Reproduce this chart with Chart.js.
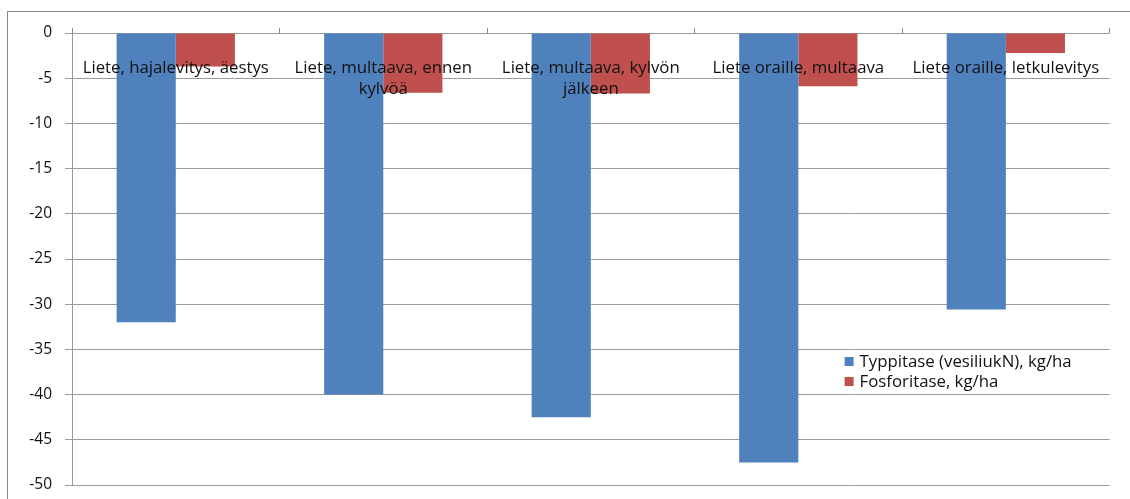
<!DOCTYPE html>
<html>
<head>
<meta charset="utf-8">
<script src="https://cdn.jsdelivr.net/npm/chart.js@4/dist/chart.umd.min.js"></script>
<style>
  html, body { margin: 0; padding: 0; background: #fff; overflow: hidden; }
  #wrap { position: relative; width: 1130px; height: 499px; }
  #frame { position: absolute; left: 7px; top: 11px; width: 1140px; height: 520px;
           border: 1px solid #8a8a8a; box-sizing: border-box; pointer-events: none; }
  canvas { position: absolute; left: 0; top: 0; }
</style>
</head>
<body>
<div id="wrap">
  <div id="frame"></div>
  <canvas id="c" width="1130" height="499"></canvas>
</div>
<script>
// Menetelmät (luokka-akselin tekstit, kaksi riviä tarvittaessa)
const categories = [
  'Liete, hajalevitys, äestys',
  ['Liete, multaava, ennen', 'kylvöä'],
  ['Liete, multaava, kylvön', 'jälkeen'],
  'Liete oraille, multaava',
  'Liete oraille, letkulevitys'
];
const seriesNames = ['Typpitase (vesiliukN), kg/ha', 'Fosforitase, kg/ha'];
const nitrogen = [-32, -40, -42.5, -47.5, -30.6];
const phosphorus = [-3.7, -6.6, -6.7, -5.9, -2.2];
const yTicks = [0, -5, -10, -15, -20, -25, -30, -35, -40, -45, -50];

const BLUE = '#4f81bd';
const RED = '#c0504d';
const FONT = '"Open Sans", Lato, sans-serif';

// Selite piirretään kuvaajan alueen sisään oikeaan alakulmaan
const insideLegend = {
  id: 'insideLegend',
  afterDraw(chart) {
    const { ctx, chartArea } = chart;
    const x0 = chartArea.right - 265;
    const y0 = chartArea.top + 329;
    ctx.save();
    ctx.font = '16.8px ' + FONT;
    ctx.textBaseline = 'middle';
    ctx.textAlign = 'left';
    chart.data.datasets.forEach((ds, i) => {
      const y = y0 + i * 20;
      ctx.fillStyle = ds.backgroundColor;
      ctx.fillRect(x0, y - 5, 9, 9);
      ctx.fillStyle = '#111';
      ctx.fillText(ds.label, x0 + 15, y);
    });
    ctx.restore();
  }
};

new Chart(document.getElementById('c'), {
  type: 'bar',
  data: {
    labels: categories,
    datasets: [
      { label: seriesNames[0], data: nitrogen, backgroundColor: BLUE },
      { label: seriesNames[1], data: phosphorus, backgroundColor: RED }
    ]
  },
  options: {
    responsive: false,
    animation: false,
    devicePixelRatio: 1,
    layout: { padding: { left: 0, top: 33, right: 18, bottom: 14 } },
    datasets: { bar: { categoryPercentage: 0.57, barPercentage: 1.0 } },
    plugins: {
      legend: { display: false },
      tooltip: { enabled: false }
    },
    scales: {
      x: {
        position: { y: 0 },
        offset: true,
        grid: {
          display: true,
          offset: true,
          drawOnChartArea: false,
          drawTicks: true,
          tickLength: -5,
          color: '#8a8a8a'
        },
        border: { display: false },
        ticks: {
          z: 1,
          color: '#111',
          padding: 29,
          maxRotation: 0,
          autoSkip: false,
          font: { family: FONT, size: 16.8, lineHeight: 1.29 }
        }
      },
      y: {
        min: -50,
        max: 0,
        afterFit(s) {
          s.width = 72;
          s.paddingTop = 0;
          s.paddingBottom = 0;
        },
        afterBuildTicks(s) { s.ticks = yTicks.map(v => ({ value: v })); },
        grid: {
          color: '#9a9a9a',
          lineWidth: 1,
          tickLength: 7,
          drawTicks: true
        },
        border: { display: true, color: '#9a9a9a' },
        ticks: {
          color: '#111',
          padding: 13,
          font: { family: FONT, size: 15.5 }
        }
      }
    }
  },
  plugins: [insideLegend]
});
</script>
</body>
</html>
